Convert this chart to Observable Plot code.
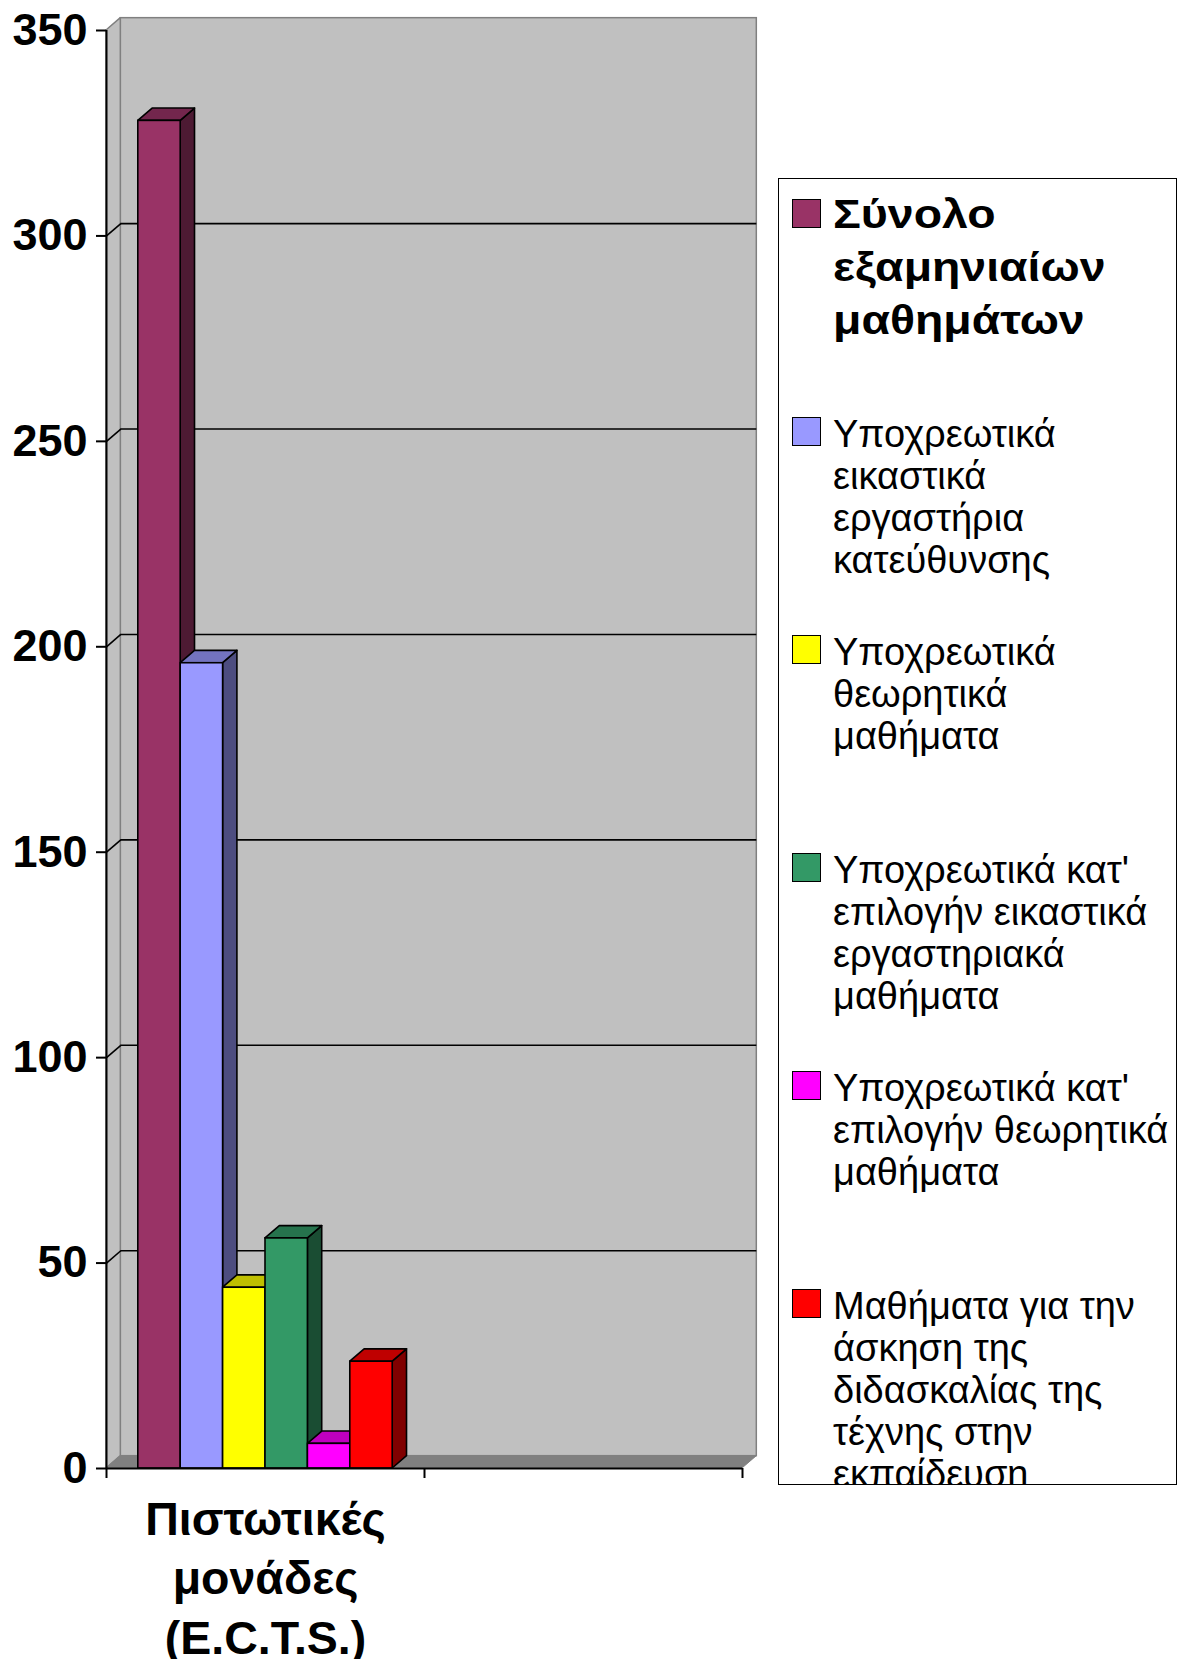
<!DOCTYPE html>
<html><head><meta charset="utf-8">
<script src="https://cdn.jsdelivr.net/npm/d3@7"></script>
<script src="https://cdn.jsdelivr.net/npm/@observablehq/plot@0.6"></script>
<style>
body{margin:0;background:#fff;font-family:"Liberation Sans",Arial,sans-serif;}
#wrap{display:flex;align-items:flex-start;width:1178px;}
#legend{margin-top:178px;width:399px;height:1307px;box-sizing:border-box;border:1.5px solid #000;overflow:hidden;padding-top:20px;padding-left:13px;background:#fff;}
.entry{height:218px;display:flex;align-items:flex-start;}
.sw{width:29px;height:29px;box-sizing:border-box;border:1.5px solid #000;flex:none;margin-right:12px;}
.lab{font-size:38px;line-height:42px;margin-top:-4px;white-space:pre-line;color:#000;}
.lab.b{font-weight:bold;font-size:40px;line-height:53px;margin-top:-11px;transform:scaleX(1.16);transform-origin:0 0;}
</style></head><body><div id="wrap"><div id="chart"></div><div id="legend"></div></div>
<script>
const categories = ["Πιστωτικές\nμονάδες\n(E.C.T.S.)", ""];
const series = [
  "Σύνολο\nεξαμηνιαίων\nμαθημάτων",
  "Υποχρεωτικά\nεικαστικά\nεργαστήρια\nκατεύθυνσης",
  "Υποχρεωτικά\nθεωρητικά\nμαθήματα",
  "Υποχρεωτικά κατ'\nεπιλογήν εικαστικά\nεργαστηριακά\nμαθήματα",
  "Υποχρεωτικά κατ'\nεπιλογήν θεωρητικά\nμαθήματα",
  "Μαθήματα για την\nάσκηση της\nδιδασκαλίας της\nτέχνης στην\nεκπαίδευση"
];
const values = [328, 196, 44, 56, 6, 26];
const colors = ["#993366", "#9999FF", "#FFFF00", "#339966", "#FF00FF", "#FF0000"];
const yTicks = [0, 50, 100, 150, 200, 250, 300, 350];

const shade = (c, k) => { const r = d3.rgb(c); return d3.rgb(r.r * k, r.g * k, r.b * k).formatHex(); };
const topColors = colors.map(c => shade(c, 0.75));
const sideColors = colors.map(c => shade(c, 0.5));

const nCat = categories.length;
const yMax = d3.max(yTicks);
const gap = 1.5;
const bw = 1 / (series.length + gap);
const depthX = 0.045, depthY = 3;

const bars = series.map((s, i) => ({s, i, v: values[i], x1: (gap / 2 + i) * bw, x2: (gap / 2 + i + 1) * bw}));
const sides = bars.flatMap(b => [
  {s: b.s, i: b.i, x: b.x2, y1: 0, y2: b.v},
  {s: b.s, i: b.i, x: b.x2 + depthX, y1: depthY, y2: b.v + depthY}
]);
const tops = bars.flatMap(b => [
  {s: b.s, i: b.i, y: b.v, x1: b.x1, x2: b.x2},
  {s: b.s, i: b.i, y: b.v + depthY, x1: b.x1 + depthX, x2: b.x2 + depthX}
]);
const inner = yTicks.filter(t => t > 0 && t < yMax);

const chart = Plot.plot({
  width: 778, height: 1659,
  marginLeft: 106, marginRight: 36, marginTop: 30, marginBottom: 191,
  style: {fontFamily: "'Liberation Sans', Arial, sans-serif", background: "#fff", color: "#000"},
  x: {domain: [0, nCat], axis: null},
  y: {domain: [0, yMax], axis: null},
  color: {type: "identity"},
  marks: [
    // back wall
    Plot.rect([0], {x1: depthX, x2: nCat + depthX, y1: depthY, y2: yMax + depthY, fill: "#c0c0c0", stroke: "#808080", strokeWidth: 1.5}),
    // left wall
    Plot.areaY([{x: 0, y1: 0, y2: yMax}, {x: depthX, y1: depthY, y2: yMax + depthY}], {x: "x", y1: "y1", y2: "y2", fill: "#c0c0c0", stroke: "#808080", strokeWidth: 1.5}),
    // floor
    Plot.areaX([{y: 0, x1: 0, x2: nCat}, {y: depthY, x1: depthX, x2: nCat + depthX}], {y: "y", x1: "x1", x2: "x2", fill: "#808080", stroke: "#808080", strokeWidth: 1}),
    // gridlines
    Plot.ruleY(inner, {y: d => d + depthY, x1: depthX, x2: nCat + depthX, stroke: "#000", strokeWidth: 1.6}),
    Plot.link(inner, {x1: 0, y1: d => d, x2: depthX, y2: d => d + depthY, stroke: "#000", strokeWidth: 1.6}),
    // bars: sides, tops, fronts
    Plot.areaY(sides, {x: "x", y1: "y1", y2: "y2", z: "s", fill: d => sideColors[d.i], stroke: "#000", strokeWidth: 1.6}),
    Plot.areaX(tops, {y: "y", x1: "x1", x2: "x2", z: "s", fill: d => topColors[d.i], stroke: "#000", strokeWidth: 1.6}),
    Plot.rect(bars, {x1: "x1", x2: "x2", y1: 0, y2: "v", fill: d => colors[d.i], stroke: "#000", strokeWidth: 1.6}),
    // axes
    Plot.ruleX([0], {y1: 0, y2: yMax, stroke: "#000", strokeWidth: 2}),
    Plot.ruleY([0], {x1: 0, x2: nCat, stroke: "#000", strokeWidth: 2}),
    Plot.axisY({ticks: yTicks, tickSize: 10, tickPadding: 9, fontSize: 45, fontWeight: "bold", strokeWidth: 2, tickFormat: d => String(d)}),
    Plot.axisX({ticks: d3.range(nCat + 1), tickSize: 10, strokeWidth: 2, tickFormat: () => ""}),
    Plot.text(categories, {x: (d, i) => i + 0.5, y: 0, dy: 25, text: d => d, lineAnchor: "top", textAnchor: "middle", fontSize: 46.5, fontWeight: "bold", lineHeight: 1.27, fill: "#000"})
  ]
});
document.getElementById("chart").appendChild(chart);

const legend = d3.select("#legend");
series.forEach((s, i) => {
  const e = legend.append("div").attr("class", "entry");
  e.append("div").attr("class", "sw").style("background", colors[i]);
  e.append("div").attr("class", i === 0 ? "lab b" : "lab").text(s);
});
</script>
</body></html>
